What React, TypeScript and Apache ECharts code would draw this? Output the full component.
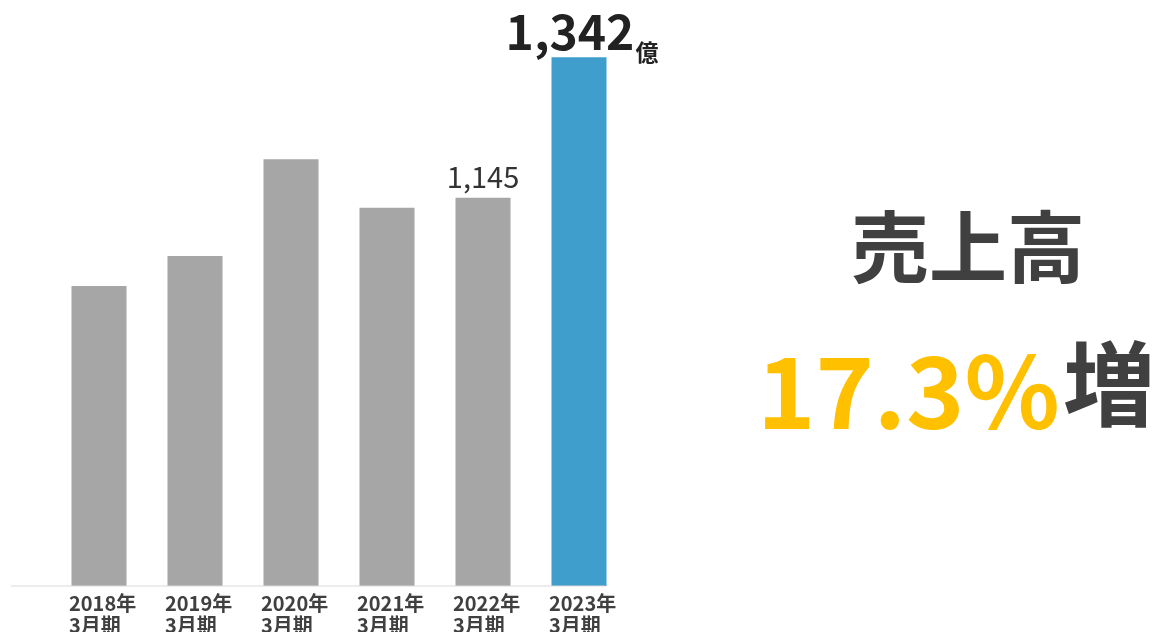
import React, { useEffect, useRef } from "react";
import * as echarts from "echarts";

const categories = ["2018年\n3月期", "2019年\n3月期", "2020年\n3月期", "2021年\n3月期", "2022年\n3月期", "2023年\n3月期"];
const sales = [1021, 1063, 1199, 1131, 1145, 1342];
const labelledIndex = [4, 5];
const axisMin = 600;
const axisMax = 1400;
const titleText = "売上高";
const growthText = "17.3%";
const growthSuffix = "増";
const unitText = "億";

const FONT = "'Noto Sans CJK JP', 'Noto Sans', sans-serif";

export default function App() {
  const ref = useRef<HTMLDivElement>(null);

  useEffect(() => {
    if (!ref.current) return;
    const chart = echarts.init(ref.current, null, { renderer: "svg", width: 1156, height: 632 });
    const fmt = (v: number) => v.toLocaleString("en-US");

    const data = sales.map((v, i) => {
      const last = i === sales.length - 1;
      const item: any = {
        value: v,
        itemStyle: { color: last ? "#409ECD" : "#A6A6A6" },
      };
      if (labelledIndex.includes(i)) {
        if (last) {
          item.label = {
            show: true,
            position: "top",
            distance: 4,
            formatter: `{a|${fmt(v)}}{b|${unitText}}`,
            rich: {
              a: { fontFamily: FONT, fontSize: 48, fontWeight: "bold", color: "#222222", lineHeight: 50, verticalAlign: "bottom", padding: [0, 0, 0, 6] },
              b: { fontFamily: FONT, fontSize: 23, fontWeight: "bold", color: "#222222", lineHeight: 50, verticalAlign: "bottom", padding: [0, 0, -9, 1] },
            },
          };
        } else {
          item.label = {
            show: true,
            position: "top",
            distance: 8,
            formatter: fmt(v),
            fontFamily: FONT,
            fontSize: 29,
            color: "#333333",
          };
        }
      }
      return item;
    });

    chart.setOption({
      animation: false,
      grid: { left: 51, width: 576, top: 16, bottom: 46, containLabel: false, outerBoundsMode: "none" },
      xAxis: {
        type: "category",
        data: categories,
        axisLine: { show: false },
        axisTick: { show: false },
        axisLabel: {
          margin: 5,
          formatter: (v: string) => v.split("\n").map((s) => `{a|${s}}`).join("\n"),
          rich: {
            a: { fontFamily: FONT, fontSize: 20, fontWeight: "bold", color: "#404040", width: 60, align: "left", lineHeight: 22 },
          },
        },
      },
      yAxis: {
        type: "value",
        min: axisMin,
        max: axisMax,
        show: false,
        splitLine: { show: false },
      },
      series: [
        {
          type: "bar",
          data,
          barWidth: 55,
        },
      ],
      graphic: [
        {
          type: "text",
          x: 968,
          y: 243,
          style: {
            text: titleText,
            font: `bold 78px ${FONT}`,
            fill: "#404040",
            align: "center",
            verticalAlign: "middle",
          },
        },
        {
          type: "text",
          x: 757,
          y: 386,
          style: {
            text: growthText,
            font: `bold 99px ${FONT}`,
            fill: "#FFC000",
            align: "left",
            verticalAlign: "middle",
          },
        },
        {
          type: "text",
          x: 1063,
          y: 378,
          style: {
            text: growthSuffix,
            font: `bold 92px ${FONT}`,
            fill: "#404040",
            align: "left",
            verticalAlign: "middle",
          },
        },
      ],
    });

    const baseY = chart.convertToPixel({ yAxisIndex: 0 }, axisMin) as number;
    chart.setOption({
      graphic: [
        {
          id: "baseline",
          type: "line",
          shape: { x1: 11, y1: baseY, x2: 605, y2: baseY },
          style: { stroke: "#D9D9D9", lineWidth: 1 },
          z: 10,
        },
      ],
    });
    return () => chart.dispose();
  }, []);

  return <div ref={ref} style={{ position: "fixed", left: 0, top: 0, width: 1156, height: 632 }} />;
}
